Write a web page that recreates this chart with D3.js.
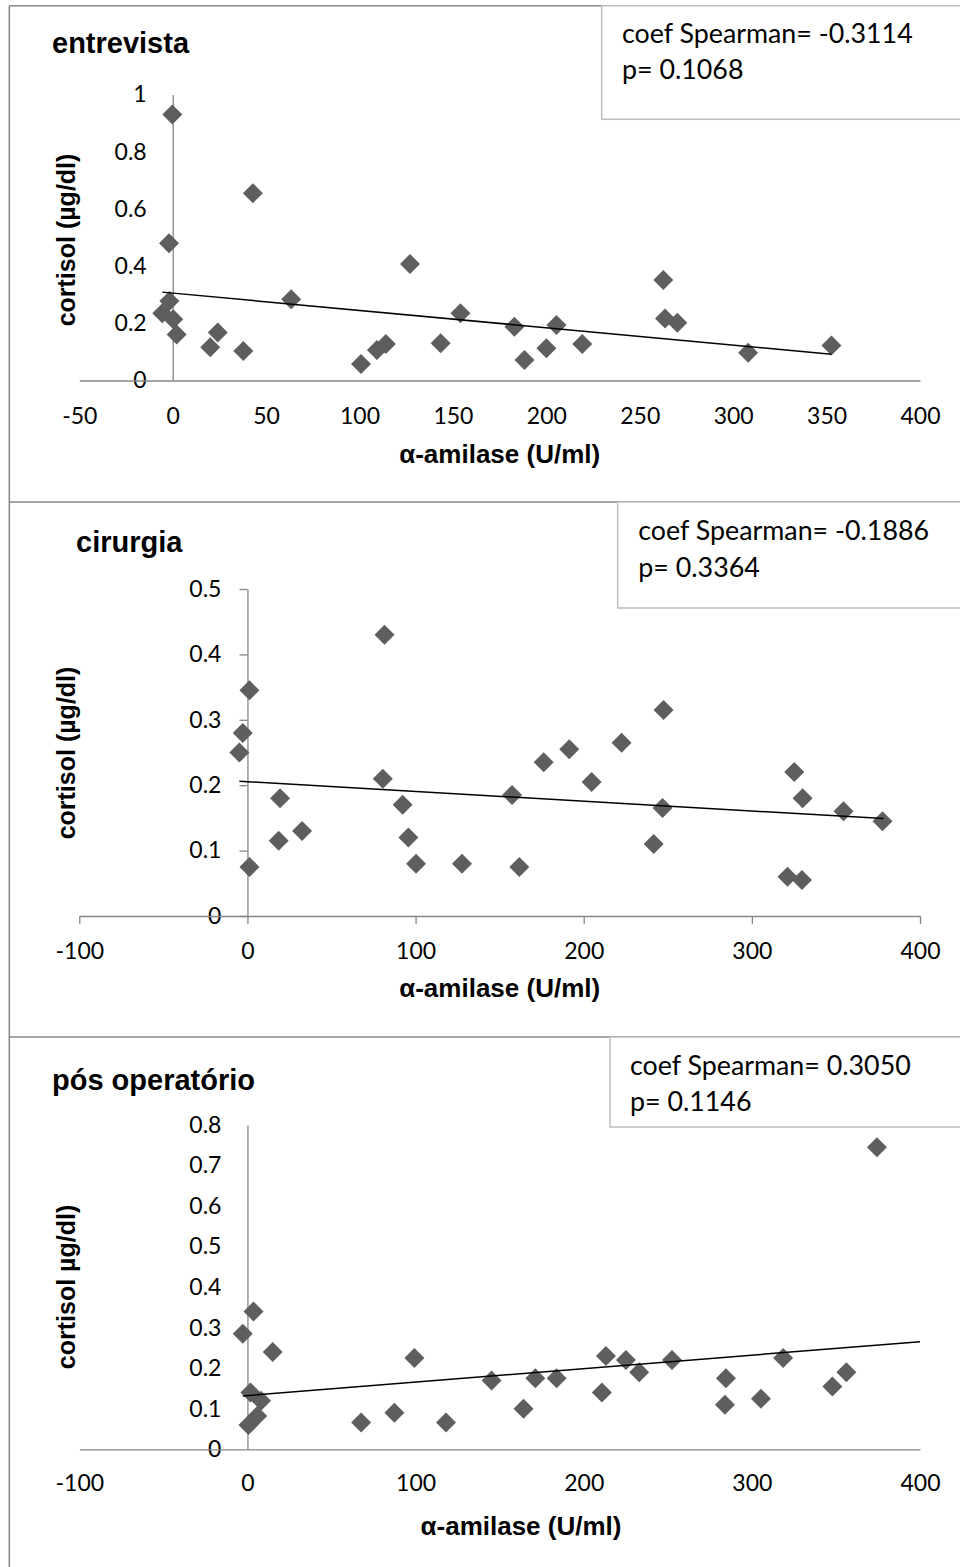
<!DOCTYPE html>
<html>
<head>
<meta charset="utf-8">
<script src="https://cdn.jsdelivr.net/npm/d3@7"></script>
<style>
  body { margin: 0; background: #fff; }
  .tick text { font-family: Lato, "Open Sans", sans-serif; fill: #000; }
  .ttl { font-family: "Liberation Sans", Arial, sans-serif; font-weight: bold; fill: #000; }
  .box { font-family: Lato, "Open Sans", sans-serif; fill: #000; }
</style>
</head>
<body>
<div id="chart"></div>
<script>
// ---- data ----
const panelTitles = ["entrevista", "cirurgia", "pós operatório"];
const xTitles = ["α-amilase (U/ml)", "α-amilase (U/ml)", "α-amilase (U/ml)"];
const yTitles = ["cortisol (µg/dl)", "cortisol (µg/dl)", "cortisol µg/dl)"];
const coefLines = ["coef Spearman= -0.3114", "coef Spearman= -0.1886", "coef Spearman= 0.3050"];
const pLines = ["p= 0.1068", "p= 0.3364", "p= 0.1146"];

const entrevistaAmilase = [-0.2, 42.9, -2, 127, 63.4, -1.8, -5.6, 0.3, 2.1, 24.1, 20.1, 37.8, 100.8, 109.3, 114.1, 143.4, 154, 182.9, 188.3, 205.4, 200, 219.2, 262.6, 263.5, 270.1, 308, 352.6];
const entrevistaCortisol = [0.93, 0.655, 0.48, 0.407, 0.284, 0.278, 0.235, 0.214, 0.161, 0.168, 0.116, 0.103, 0.058, 0.107, 0.128, 0.13, 0.235, 0.188, 0.072, 0.194, 0.113, 0.128, 0.351, 0.217, 0.202, 0.097, 0.122];
const entrevistaTrendX = [-5.6, 352.6];
const entrevistaTrendY = [0.309, 0.092];

const cirurgiaAmilase = [81.5, 1.2, -2.8, -4.8, 80.5, 19.4, 92.3, 18.6, 32.5, 95.7, 1.2, 100.3, 127.6, 247.5, 222.5, 191.4, 176.2, 204.7, 157.4, 246.9, 241.6, 161.7, 325.2, 330.2, 354.5, 377.7, 321.2, 329.8];
const cirurgiaCortisol = [0.43, 0.345, 0.28, 0.25, 0.21, 0.18, 0.17, 0.115, 0.13, 0.12, 0.075, 0.08, 0.08, 0.315, 0.265, 0.255, 0.235, 0.205, 0.185, 0.165, 0.11, 0.075, 0.22, 0.18, 0.16, 0.145, 0.06, 0.055];
const cirurgiaTrendX = [-4.8, 378.3];
const cirurgiaTrendY = [0.206, 0.149];

const posAmilase = [3.6, -2.8, 15, 99.3, 1.8, 8.1, 5.8, 0.6, 87.4, 67.6, 118.1, 374.4, 145.2, 164.2, 171.2, 183.9, 213.2, 210.8, 225.1, 233, 252.5, 284.6, 284, 305.4, 318.6, 347.9, 356.2];
const posCortisol = [0.34, 0.285, 0.24, 0.225, 0.14, 0.12, 0.082, 0.06, 0.09, 0.066, 0.066, 0.745, 0.17, 0.1, 0.175, 0.175, 0.23, 0.14, 0.22, 0.19, 0.22, 0.175, 0.11, 0.125, 0.225, 0.155, 0.19];
const posTrendX = [-2.8, 400];
const posTrendY = [0.1315, 0.2655];

const entrevistaXTicks = [-50, 0, 50, 100, 150, 200, 250, 300, 350, 400];
const entrevistaYTicks = [0, 0.2, 0.4, 0.6, 0.8, 1];
const cirurgiaXTicks = [-100, 0, 100, 200, 300, 400];
const cirurgiaYTicks = [0, 0.1, 0.2, 0.3, 0.4, 0.5];
const posXTicks = [-100, 0, 100, 200, 300, 400];
const posYTicks = [0, 0.1, 0.2, 0.3, 0.4, 0.5, 0.6, 0.7, 0.8];

const width = 960, height = 1567;
const axisColor = "#868686";
const markerColor = "#5e5e5e";

const svg = d3.select("#chart").append("svg")
    .attr("width", width)
    .attr("height", height)
    .style("display", "block");

svg.append("rect").attr("width", width).attr("height", height).attr("fill", "#fff");

// panel layout (pixels)
const panels = [
    {xs: entrevistaAmilase, ys: entrevistaCortisol, tx: entrevistaTrendX, ty: entrevistaTrendY,
     xTicks: entrevistaXTicks, yTicks: entrevistaYTicks, xDomain: [-50, 400], yDomain: [0, 1],
     yRange: [380.5, 94.5], tickLen: 0, xLabelOff: 27,
     titleX: 52, titleY: 53.3, xTitleX: 499.7, xTitleY: 463, yTitleY: 240,
     boxX: 601.7, boxTop: 5.7, boxBottom: 119.3, textX: 622, line1: 43.3, line2: 79},
    {xs: cirurgiaAmilase, ys: cirurgiaCortisol, tx: cirurgiaTrendX, ty: cirurgiaTrendY,
     xTicks: cirurgiaXTicks, yTicks: cirurgiaYTicks, xDomain: [-100, 400], yDomain: [0, 0.5],
     yRange: [916, 589], tickLen: 8, xLabelOff: 27,
     titleX: 76, titleY: 551.7, xTitleX: 499.7, xTitleY: 997, yTitleY: 753,
     boxX: 617.7, boxTop: 502, boxBottom: 608, textX: 638.3, line1: 540, line2: 576.7},
    {xs: posAmilase, ys: posCortisol, tx: posTrendX, ty: posTrendY,
     xTicks: posXTicks, yTicks: posYTicks, xDomain: [-100, 400], yDomain: [0, 0.8],
     yRange: [1449.3, 1125], tickLen: 0, xLabelOff: 25,
     titleX: 52, titleY: 1090, xTitleX: 521, xTitleY: 1535, yTitleY: 1287,
     boxX: 610, boxTop: 1037, boxBottom: 1127, textX: 630, line1: 1075, line2: 1110.7}
];

// frame: left edge, top edge and panel separators
const frame = svg.append("g").attr("stroke", "#878787").attr("stroke-width", 1.5);
frame.append("line").attr("x1", 9.3).attr("x2", 9.3).attr("y1", 5.7).attr("y2", height);
[5.7, 502, 1037].forEach(y => {
    frame.append("line").attr("x1", 9.3).attr("x2", width).attr("y1", y).attr("y2", y);
});

const diamond = d3.symbol().type(d3.symbolSquare).size(200);

panels.forEach((p, i) => {
    const g = svg.append("g");

    const x = d3.scaleLinear().domain(p.xDomain).range([79.3, 920]);
    const y = d3.scaleLinear().domain(p.yDomain).range(p.yRange);

    // y axis, crossing at x = 0
    const yAxis = d3.axisLeft(y)
        .tickValues(p.yTicks)
        .tickFormat(d => String(d))
        .tickSize(p.tickLen)
        .tickSizeOuter(0)
        .tickPadding(26 - p.tickLen);
    const yg = g.append("g")
        .attr("transform", `translate(${x(0)},0)`)
        .call(yAxis);

    // x axis, crossing at y = 0
    const xAxis = d3.axisBottom(x)
        .tickValues(p.xTicks)
        .tickFormat(d => String(d))
        .tickSize(p.tickLen)
        .tickSizeOuter(0)
        .tickPadding(p.xLabelOff - p.tickLen);
    const xg = g.append("g")
        .attr("transform", `translate(0,${y(0)})`)
        .call(xAxis);

    [xg, yg].forEach(a => {
        a.select(".domain").attr("stroke", axisColor).attr("stroke-width", 1.3);
        a.selectAll(".tick line").attr("stroke", axisColor).attr("stroke-width", 1.3);
        a.selectAll(".tick text").style("font-size", "23px");
    });

    // markers
    g.append("g").selectAll("path")
        .data(p.xs.map((v, k) => [v, p.ys[k]]))
        .join("path")
        .attr("d", diamond)
        .attr("transform", d => `translate(${x(d[0])},${y(d[1])}) rotate(45)`)
        .attr("fill", markerColor);

    // trend line
    g.append("line")
        .attr("x1", x(p.tx[0])).attr("y1", y(p.ty[0]))
        .attr("x2", x(p.tx[1])).attr("y2", y(p.ty[1]))
        .attr("stroke", "#000")
        .attr("stroke-width", 1.5);

    // titles
    g.append("text").attr("class", "ttl")
        .attr("x", p.titleX).attr("y", p.titleY)
        .style("font-size", "29px")
        .text(panelTitles[i]);

    g.append("text").attr("class", "ttl")
        .attr("x", p.xTitleX).attr("y", p.xTitleY)
        .attr("text-anchor", "middle")
        .style("font-size", "26px")
        .text(xTitles[i]);

    g.append("text").attr("class", "ttl")
        .attr("transform", `translate(75,${p.yTitleY}) rotate(-90)`)
        .attr("text-anchor", "middle")
        .style("font-size", "25px")
        .text(yTitles[i]);

    // statistics box
    g.append("rect")
        .attr("x", p.boxX).attr("y", p.boxTop)
        .attr("width", width + 10 - p.boxX)
        .attr("height", p.boxBottom - p.boxTop)
        .attr("fill", "#fff")
        .attr("stroke", "#bdbdbd")
        .attr("stroke-width", 1.5);

    g.append("text").attr("class", "box")
        .attr("x", p.textX).attr("y", p.line1)
        .style("font-size", "26.8px")
        .text(coefLines[i]);
    g.append("text").attr("class", "box")
        .attr("x", p.textX).attr("y", p.line2)
        .style("font-size", "26.8px")
        .text(pLines[i]);
});
</script>
</body>
</html>
